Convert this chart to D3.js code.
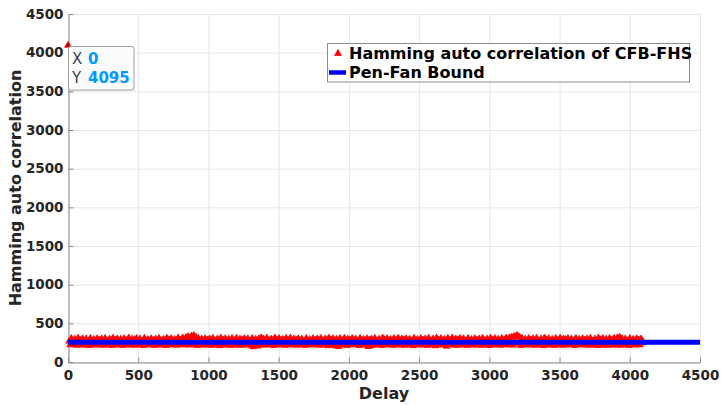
<!DOCTYPE html>
<html>
<head>
<meta charset="utf-8">
<script src="https://cdn.jsdelivr.net/npm/d3@7"></script>
<style>
  html, body { margin: 0; padding: 0; background: #fff; }
  svg { display: block; font-family: "DejaVu Sans", sans-serif; }
</style>
</head>
<body>
<svg id="chart" width="721" height="405"></svg>
<script>
// ---- data ----
const xTicks = [0, 500, 1000, 1500, 2000, 2500, 3000, 3500, 4000, 4500];
const yTicks = [0, 500, 1000, 1500, 2000, 2500, 3000, 3500, 4000, 4500];
const sampleStep = 8;
const lastDelay = 4094;
// Hamming auto-correlation values (delay 0, 8, 16, ...)
const hammingValues = [
  4095, 268, 221, 304, 247, 226, 296, 258, 215, 309, 238, 281, 224, 301, 252, 218,
  298, 233, 274, 212, 306, 245, 229, 293, 261, 219, 302, 236, 284, 222, 299, 249,
  216, 305, 240, 271, 227, 297, 255, 213, 308, 234, 286, 220, 300, 243, 225, 294,
  259, 214, 303, 239, 279, 223, 310, 248, 218, 295, 231, 288, 217, 304, 253, 228,
  299, 237, 270, 211, 307, 244, 226, 291, 263, 221, 301, 235, 283, 215, 298, 250,
  219, 306, 241, 276, 224, 296, 257, 212, 309, 232, 289, 222, 302, 246, 227, 292,
  260, 216, 311, 238, 282, 225, 312, 251, 220, 318, 230, 328, 218, 305, 336, 229,
  344, 239, 318, 213, 306, 247, 228, 297, 262, 218, 303, 233, 285, 221, 300, 242,
  215, 307, 249, 273, 226, 298, 254, 211, 310, 236, 287, 219, 303, 245, 224, 295,
  258, 214, 305, 240, 280, 222, 308, 250, 217, 296, 232, 290, 216, 302, 255, 227,
  300, 238, 272, 210, 306, 197, 229, 294, 264, 205, 301, 234, 313, 220, 299, 243,
  218, 309, 242, 275, 223, 297, 256, 213, 311, 231, 288, 221, 304, 248, 226, 293,
  261, 215, 307, 237, 281, 224, 310, 252, 219, 298, 235, 286, 217, 301, 244, 228,
  297, 240, 270, 212, 305, 246, 227, 292, 259, 220, 303, 233, 284, 222, 300, 251,
  216, 306, 239, 277, 225, 299, 253, 211, 309, 234, 290, 218, 302, 243, 207, 296,
  257, 201, 304, 236, 279, 223, 308, 249, 214, 297, 230, 287, 219, 305, 246, 225,
  299, 238, 273, 213, 306, 244, 228, 294, 262, 219, 302, 200, 285, 207, 298, 241,
  217, 307, 248, 274, 226, 296, 255, 212, 310, 233, 288, 221, 303, 247, 224, 292,
  260, 215, 305, 239, 282, 222, 309, 250, 218, 299, 235, 289, 216, 301, 245, 229,
  296, 237, 271, 211, 307, 243, 226, 293, 263, 220, 304, 232, 286, 223, 300, 248,
  214, 308, 241, 276, 227, 298, 254, 210, 311, 236, 287, 219, 302, 244, 225, 295,
  258, 204, 306, 238, 280, 224, 310, 251, 216, 297, 231, 290, 217, 304, 253, 227,
  301, 239, 272, 212, 305, 245, 228, 292, 261, 218, 303, 234, 284, 221, 299, 249,
  215, 307, 240, 277, 225, 297, 256, 213, 309, 233, 289, 220, 303, 246, 226, 294,
  259, 216, 306, 237, 283, 223, 311, 250, 219, 315, 232, 322, 218, 330, 254, 338,
  342, 238, 321, 212, 307, 244, 229, 296, 263, 220, 304, 235, 286, 222, 301, 247,
  217, 308, 242, 275, 226, 299, 257, 211, 310, 234, 288, 218, 302, 245, 227, 293,
  260, 214, 305, 239, 281, 224, 309, 252, 216, 298, 230, 291, 219, 303, 250, 228,
  298, 236, 274, 213, 306, 246, 227, 294, 262, 221, 302, 233, 285, 220, 300, 248,
  216, 307, 241, 273, 225, 297, 255, 212, 310, 235, 289, 217, 304, 244, 224, 296,
  257, 215, 306, 238, 279, 222, 308, 251, 218, 314, 231, 320, 216, 303, 252, 226,
  300, 237, 271, 213, 305, 245, 229, 293, 261, 219, 302, 234, 286, 221, 298, 247
];
const lastValue = 262;
const boundDelays = [0, 4500];
const boundValues = [256, 256];
const seriesNames = ["Hamming auto correlation of CFB-FHS", "Pen-Fan Bound"];
const tipX = 0, tipY = 4095;

// ---- build points ----
const points = hammingValues.map((v, i) => ({ x: i * sampleStep, y: v }));
points.push({ x: lastDelay, y: lastValue });
const bound = boundDelays.map((d, i) => ({ x: d, y: boundValues[i] }));

// ---- layout ----
const svg = d3.select("#chart");
const mL = 68, mR = 700, mT = 14, mB = 362;
const x = d3.scaleLinear().domain([0, 4500]).range([mL, mR]);
const y = d3.scaleLinear().domain([0, 4500]).range([mB, mT]);

// grid
const grid = svg.append("g");
grid.selectAll("line.vx").data(xTicks).join("line")
  .attr("x1", d => x(d) + 0.5).attr("x2", d => x(d) + 0.5)
  .attr("y1", mT).attr("y2", mB)
  .attr("stroke", "#e6e6e6").attr("stroke-width", 1);
grid.selectAll("line.hy").data(yTicks).join("line")
  .attr("y1", d => y(d) + 0.5).attr("y2", d => y(d) + 0.5)
  .attr("x1", mL).attr("x2", mR)
  .attr("stroke", "#e6e6e6").attr("stroke-width", 1);

// axes
const fmt = d3.format("d");
const xAxis = d3.axisBottom(x).tickValues(xTicks).tickFormat(fmt).tickSizeInner(-5).tickSizeOuter(0).tickPadding(8);
const yAxis = d3.axisLeft(y).tickValues(yTicks).tickFormat(fmt).tickSizeInner(-5).tickSizeOuter(0).tickPadding(5);
const gx = svg.append("g").attr("transform", `translate(0,${mB + 0.5})`).call(xAxis);
const gy = svg.append("g").attr("transform", `translate(${mL + 0.5},0)`).call(yAxis);
[gx, gy].forEach(g => {
  g.select(".domain").attr("stroke", "#8c8c8c");
  g.selectAll(".tick line").attr("stroke", "#8c8c8c");
  g.selectAll(".tick text").attr("fill", "#262626")
    .style("font-family", "DejaVu Sans").style("font-weight", "bold").style("font-size", "13.5px");
});

// series 1: triangles
const tri = d3.symbol().type(d3.symbolTriangle).size(20);
svg.append("g").selectAll("path").data(points).join("path")
  .attr("d", tri)
  .attr("transform", d => `translate(${x(d.x)},${y(d.y)})`)
  .attr("fill", "#ff0000").attr("stroke", "#ff0000").attr("stroke-width", 0.8);

// series 2: bound line
const line = d3.line().x(d => x(d.x)).y(d => y(d.y));
svg.append("path").datum(bound)
  .attr("d", line).attr("fill", "none")
  .attr("stroke", "#0000ff").attr("stroke-width", 5);

// data tip marker
svg.append("rect").attr("x", x(tipX) - 1).attr("y", y(tipY) - 1).attr("width", 2).attr("height", 2)
  .attr("fill", "#222");

// axis labels
svg.append("text").attr("x", (mL + mR) / 2).attr("y", 399)
  .attr("text-anchor", "middle").attr("fill", "#262626")
  .style("font-weight", "bold").style("font-size", "16px").text("Delay");
svg.append("text").attr("transform", `translate(21,${(mT + mB) / 2}) rotate(-90)`)
  .attr("text-anchor", "middle").attr("fill", "#262626")
  .style("font-weight", "bold").style("font-size", "16px").text("Hamming auto correlation");

// legend
const lg = svg.append("g");
lg.append("rect").attr("x", 327.5).attr("y", 43.5).attr("width", 362).attr("height", 38.5)
  .attr("fill", "#fff").attr("stroke", "#8c8c8c").attr("stroke-width", 1);
lg.append("path").attr("d", tri).attr("transform", "translate(338,53.5)")
  .attr("fill", "#ff0000").attr("stroke", "#ff0000").attr("stroke-width", 0.8);
lg.append("line").attr("x1", 329).attr("x2", 346).attr("y1", 72.5).attr("y2", 72.5)
  .attr("stroke", "#0000ff").attr("stroke-width", 4.5);
lg.selectAll("text").data(seriesNames).join("text")
  .attr("x", 349).attr("y", (d, i) => 59.3 + i * 18.4)
  .attr("fill", "#000").style("font-weight", "bold").style("font-size", "16px")
  .text(d => d);

// data tip box
const tip = svg.append("g");
tip.append("rect").attr("x", 68.5).attr("y", 46.5).attr("width", 65.5).attr("height", 43.5)
  .attr("rx", 2).attr("fill", "#fcfcff").attr("stroke", "#a0a0a0").attr("stroke-width", 1);
const tipRows = [["X", tipX], ["Y", tipY]];
tipRows.forEach((r, i) => {
  const t = tip.append("text").attr("x", 72).attr("y", 64.3 + i * 18.4).style("font-size", "15px");
  t.append("tspan").attr("fill", "#404040").text(r[0]);
  t.append("tspan").attr("x", 88).attr("fill", "#0099ff").style("font-weight", "bold").text(r[1]);
});
</script>
</body>
</html>
